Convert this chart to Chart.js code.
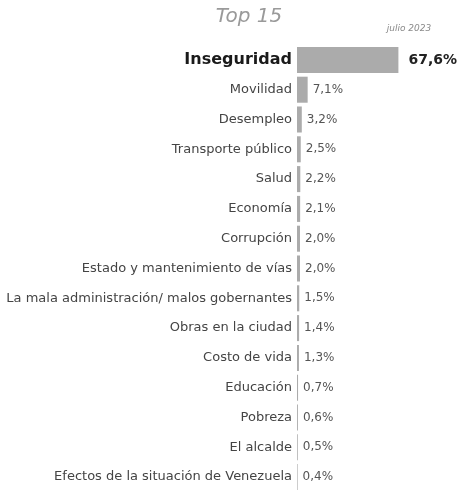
<!DOCTYPE html>
<html>
<head>
<meta charset="utf-8">
<script src="https://cdn.jsdelivr.net/npm/chart.js@4.4.0/dist/chart.umd.min.js"></script>
<style>
  html, body { margin: 0; padding: 0; background: #ffffff; overflow: hidden; }
</style>
</head>
<body>
<canvas id="c" width="459" height="497" style="display:block"></canvas>
<script>
const titleText = "Top 15";
const dateText = "julio 2023";
const categories = [
  "Inseguridad",
  "Movilidad",
  "Desempleo",
  "Transporte público",
  "Salud",
  "Economía",
  "Corrupción",
  "Estado y mantenimiento de vías",
  "La mala administración/ malos gobernantes",
  "Obras en la ciudad",
  "Costo de vida",
  "Educación",
  "Pobreza",
  "El alcalde",
  "Efectos de la situación de Venezuela"
];
const values = [67.6, 7.1, 3.2, 2.5, 2.2, 2.1, 2.0, 2.0, 1.5, 1.4, 1.3, 0.7, 0.6, 0.5, 0.4];

const WIDE = "'DejaVu Sans', Verdana, sans-serif";

const headerPlugin = {
  id: 'header',
  afterDraw(chart) {
    const ctx = chart.ctx;
    ctx.save();
    ctx.fillStyle = '#9a9a9a';
    ctx.font = "italic 20px " + WIDE;
    ctx.textAlign = 'center';
    ctx.textBaseline = 'middle';
    ctx.fillText(titleText, 249, 17);
    ctx.fillStyle = '#8a8a8a';
    ctx.font = "italic 9px " + WIDE;
    ctx.fillText(dateText, 409, 29);
    ctx.restore();
  }
};

const valueLabels = {
  id: 'valueLabels',
  afterDatasetsDraw(chart) {
    const ctx = chart.ctx;
    const meta = chart.getDatasetMeta(0);
    ctx.save();
    ctx.textBaseline = 'middle';
    ctx.textAlign = 'left';
    meta.data.forEach((bar, i) => {
      const txt = values[i].toFixed(1).replace('.', ',') + '%';
      if (i === 0) {
        ctx.font = "bold 14px " + WIDE;
        ctx.fillStyle = '#222222';
        ctx.fillText(txt, bar.x + 10, bar.y);
      } else {
        ctx.font = "12px " + WIDE;
        ctx.fillStyle = '#555555';
        ctx.fillText(txt, bar.x + 5, bar.y);
      }
    });
    ctx.restore();
  }
};

new Chart(document.getElementById('c'), {
  type: 'bar',
  data: {
    labels: categories,
    datasets: [{
      data: values,
      backgroundColor: '#ababab',
      borderWidth: 0,
      categoryPercentage: 0.9,
      barPercentage: 0.97
    }]
  },
  options: {
    indexAxis: 'y',
    responsive: false,
    animation: false,
    layout: { padding: { top: 45, right: 12, bottom: 5, left: 0 } },
    plugins: {
      legend: { display: false },
      tooltip: { enabled: false },
      title: { display: false }
    },
    scales: {
      x: {
        display: false,
        min: 0,
        max: 100
      },
      y: {
        grid: { display: false, drawTicks: false },
        border: { display: false },
        ticks: {
          padding: 5,
          autoSkip: false,
          color: (c) => c.index === 0 ? '#1a1a1a' : '#444444',
          font: (c) => c.index === 0
            ? { family: WIDE, size: 16, weight: 'bold' }
            : { family: WIDE, size: 13, weight: 'normal' }
        },
        afterFit(scale) {
          scale.width = 297;
          scale.paddingTop = 0;
          scale.paddingBottom = 0;
        }
      }
    }
  },
  plugins: [headerPlugin, valueLabels]
});
</script>
</body>
</html>
